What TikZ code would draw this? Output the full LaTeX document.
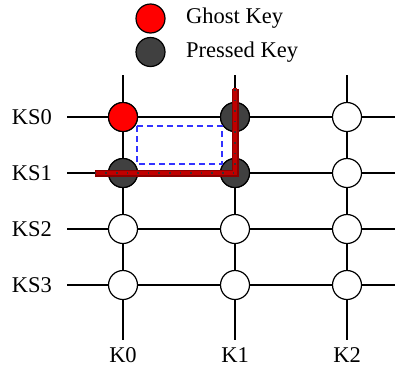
\documentclass[tikz,border=0pt]{standalone}
\usepackage{fontspec}
\setmainfont{Liberation Serif}
\begin{document}
\begin{tikzpicture}[x=1pt,y=-1pt,
  wire/.style={line width=1.3pt,black},
  key/.style={circle,draw=black,line width=1.2pt,minimum size=29pt,inner sep=0pt,fill=white},
  ghost/.style={key,fill=red},
  pressed/.style={key,fill=black!75},
  lbl/.style={font=\fontsize{22.5}{26}\selectfont,inner sep=0pt},
  pathout/.style={line width=7pt,draw=red!55!black},
  pathin/.style={line width=4.6pt,draw=red!75!black},
  pathdots/.style={line width=1.6pt,draw=black!80,dash pattern=on 1.6pt off 9pt},
  ghostbox/.style={draw=blue!80!white,line width=1.3pt,dash pattern=on 6pt off 4pt}
]
\useasboundingbox (0,0) rectangle (395,370);
% wire endpoints
\foreach \c/\x in {0/123,1/235,2/347}{
  \coordinate (ct\c) at (\x,75);
  \coordinate (cb\c) at (\x,340);
}
\foreach \r/\y in {0/117,1/173,2/229,3/285}{
  \coordinate (rl\r) at (67,\y);
  \coordinate (rr\r) at (395,\y);
}
\foreach \c in {0,1,2}{\draw[wire] (ct\c) -- (cb\c);}
\foreach \r in {0,1,2,3}{\draw[wire] (rl\r) -- (rr\r);}
% keys
\foreach \c/\x in {0/123,1/235,2/347}{
  \foreach \r/\y in {0/117,1/173,2/229,3/285}{
    \node[key] (k\c\r) at (\x,\y) {};
  }
}
\node[ghost] at (k00) {};
\node[pressed] at (k10) {};
\node[pressed] at (k01) {};
\node[pressed] at (k11) {};
% ghost box
\coordinate (bx1) at (137,126);
\coordinate (bx2) at (222,164);
\draw[ghostbox] (bx1) rectangle (bx2);
% current path
\coordinate (p1) at (235,89);
\coordinate (p2) at (235,173);
\coordinate (p3) at (95,173);
\draw[pathout] (p1) -- (p2) -- (p3);
\draw[pathin] ([yshift=1.2pt]p1) -- (p2) -- ([xshift=1.2pt]p3);
\draw[pathdots] (p1) -- (p2) -- (p3);
% labels
\foreach \r/\y in {0/117,1/173,2/229,3/285}{
  \node[lbl] (ks\r) at (32,\y) {KS\r};
}
\foreach \c/\x in {0/123,1/235,2/347}{
  \node[lbl] (kl\c) at (\x,355) {K\c};
}
% legend
\node[ghost] (lg) at (150.5,18.5) {};
\node[pressed] (lp) at (150.5,52) {};
\node[lbl,anchor=west] (lgt) at (186,18.5) {Ghost Key};
\node[lbl,anchor=west] (lpt) at (186,52) {Pressed Key};
\end{tikzpicture}
\end{document}
